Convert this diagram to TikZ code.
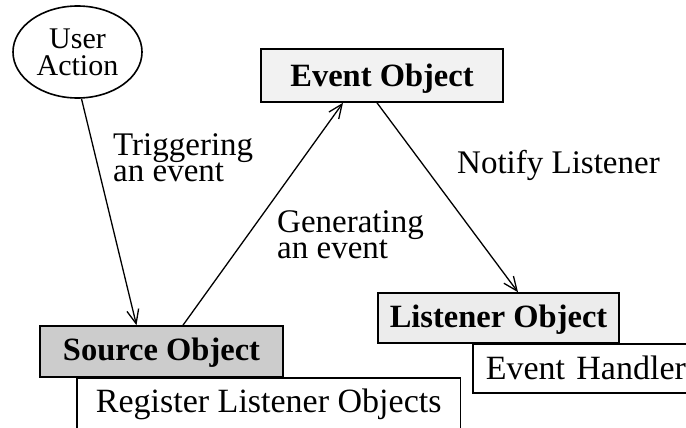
\documentclass[tikz,border=0pt]{standalone}
\usepackage{fontspec}
\setmainfont{Liberation Serif}
\usetikzlibrary{arrows.meta,shapes.geometric}
\definecolor{srcgray}{HTML}{CCCCCC}
\definecolor{evgray}{HTML}{F2F2F2}
\definecolor{lisgray}{HTML}{ECECEC}
\begin{document}
\begin{tikzpicture}[x=1pt,y=-1pt,
  lbl/.style={font=\fontsize{33}{26.5}\selectfont, align=left, inner sep=0pt, anchor=north west},
  obj/.style={draw, line width=1.6pt, inner sep=0pt, font=\bfseries\fontsize{32.5}{36}\selectfont, text height=21.5pt, text depth=0pt},
  plain/.style={font=\fontsize{34}{36}\selectfont, inner sep=0pt, text height=22.5pt, text depth=0pt},
  frame/.style={line width=1.6pt},
  arr/.style={line width=1.3pt, -{Straight Barb[length=14pt,width=12pt,line width=1.3pt]}}
]
\useasboundingbox (0,0) rectangle (686,428);
% Register Listener Objects (open at the bottom)
\node (reg) [plain, minimum width=383pt, minimum height=47pt, anchor=north west] at (77,378) {Register Listener Objects};
\draw[frame] ([yshift=-8pt]reg.south west) -- (reg.north west) -- (reg.north east) -- ([yshift=-8pt]reg.south east);
% Event Handler (runs off the right edge)
\node (eh) [draw, frame, plain, anchor=north west, inner xsep=13pt, text width=215pt, align=left, minimum height=49pt] at (472,343) {Event Handler};
% main objects
\node (src) [obj, fill=srcgray, minimum width=243pt, minimum height=51pt, text depth=3pt] at (161.5,351.5) {Source Object};
\node (ev) [obj, fill=evgray, minimum width=242pt, minimum height=53pt] at (382,75.5) {Event Object};
\node (lis) [obj, fill=lisgray, minimum width=241pt, minimum height=50pt, text depth=2pt] at (498.5,318) {Listener Object};
\node (ua) [draw, ellipse, line width=1.6pt, minimum width=129pt, minimum height=92pt, inner sep=0pt, align=center, font=\fontsize{30}{27}\selectfont] at (77.5,52) {User\\Action};
% labels
\node (l1) [lbl] at (113,133) {Triggering\\an event};
\node (l2) [lbl] at (277,210) {Generating\\an event};
\node (l3) [lbl] at (457,150) {Notify Listener};
% connectors
\draw[arr] ([xshift=4pt]ua.south) -- ([xshift=-25pt]src.north);
\draw[arr] ([xshift=21.5pt]src.north) -- ([xshift=-39pt]ev.south);
\draw[arr] ([xshift=-5pt]ev.south) -- ([xshift=19.5pt]lis.north);
\end{tikzpicture}
\end{document}
